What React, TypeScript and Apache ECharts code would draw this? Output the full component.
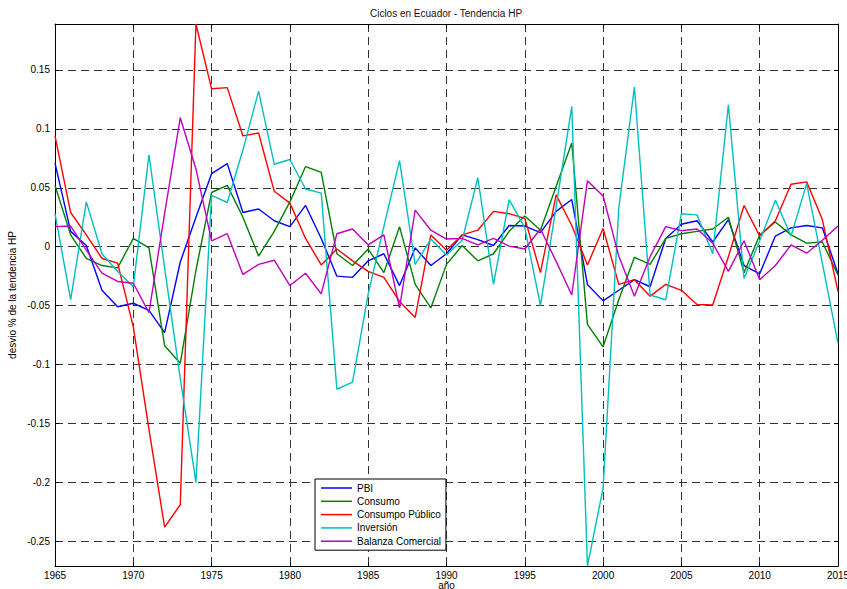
import React, { useEffect, useRef } from "react";
import * as echarts from "echarts";

const years: number[] = Array.from({ length: 51 }, (_, i) => 1965 + i);

const pbi: number[] = [
  0.071, 0.013, 0.001, -0.037, -0.051, -0.048, -0.054, -0.073, -0.013, 0.025,
  0.062, 0.0705, 0.029, 0.032, 0.022, 0.017, 0.035, 0.007, -0.025, -0.026,
  -0.012, -0.006, -0.033, -0.001, -0.016, -0.006, 0.01, 0.006, 0.001, 0.018,
  0.0175, 0.012, 0.03, 0.04, -0.032, -0.046, -0.037, -0.028, -0.034, 0.007,
  0.019, 0.022, 0.004, 0.023, -0.016, -0.023, 0.009, 0.016, 0.018, 0.016,
  -0.023,
];

const consumo: number[] = [
  0.052, 0.01, -0.01, -0.016, -0.018, 0.007, -0.001, -0.084, -0.099, -0.02,
  0.046, 0.052, 0.025, -0.008, 0.013, 0.038, 0.068, 0.063, -0.006, -0.016,
  -0.002, -0.022, 0.017, -0.032, -0.052, -0.015, 0.001, -0.012, -0.006, 0.013,
  0.026, 0.014, 0.051, 0.088, -0.066, -0.085, -0.045, -0.009, -0.015, 0.007,
  0.011, 0.013, 0.015, 0.025, -0.022, 0.01, 0.021, 0.01, 0.003, 0.004,
  -0.024,
];

const consumoPublico: number[] = [
  0.094, 0.029, 0.01, -0.01, -0.014, -0.068, -0.155, -0.238, -0.219, 0.189,
  0.134, 0.135, 0.094, 0.0965, 0.047, 0.037, 0.007, -0.0155, -0.002, -0.012,
  -0.021, -0.026, -0.0465, -0.06, 0.01, -0.003, 0.01, 0.014, 0.03, 0.028,
  0.024, -0.022, 0.044, 0.018, -0.0155, 0.0155, -0.032, -0.028, -0.042, -0.032,
  -0.037, -0.049, -0.0495, -0.0085, 0.035, 0.009, 0.022, 0.053, 0.055, 0.023,
  -0.038,
];

const inversion: number[] = [
  0.028, -0.045, 0.038, -0.006, -0.021, -0.034, 0.078, -0.018, -0.112, -0.2,
  0.0435, 0.0375, 0.082, 0.132, 0.07, 0.074, 0.049, 0.0455, -0.121, -0.115,
  -0.04, 0.017, 0.073, -0.015, 0.0065, -0.007, 0.0055, 0.0585, -0.032, 0.04,
  0.016, -0.05, 0.034, 0.119, -0.271, -0.205, 0.0325, 0.1355, -0.041, -0.045,
  0.028, 0.027, -0.006, 0.1205, -0.027, 0.005, 0.0395, 0.009, 0.0535, -0.014,
  -0.082,
];

const balanza: number[] = [
  0.017, 0.0175, -0.003, -0.0225, -0.0295, -0.031, -0.056, 0.028, 0.1095, 0.066,
  0.005, 0.011, -0.0235, -0.015, -0.0115, -0.033, -0.0225, -0.04, 0.011, 0.015,
  0.0015, 0.01, -0.052, 0.031, 0.014, 0.0065, 0.007, 0.0015, 0.007, 0.0005,
  -0.002, 0.015, -0.0125, -0.041, 0.056, 0.043, -0.008, -0.042, -0.0085, 0.017,
  0.0135, 0.015, 0.003, -0.021, 0.005, -0.028, -0.016, 0.0015, -0.0055, 0.0055,
  0.0175,
];

const seriesNames: string[] = [
  "PBI",
  "Consumo",
  "Consumpo Público",
  "Inversión",
  "Balanza Comercial",
];
const seriesColors: string[] = ["#0000FF", "#008000", "#FF0000", "#00BFBF", "#BF00BF"];
const seriesValues: number[][] = [pbi, consumo, consumoPublico, inversion, balanza];

const FONT = "'Liberation Sans', Arial, Helvetica, sans-serif";

export default function App() {
  const ref = useRef<HTMLDivElement>(null);

  useEffect(() => {
    if (!ref.current) return;
    const chart = echarts.init(ref.current, undefined, { renderer: "svg" });

    const all = seriesValues.flat();
    const yMin = Math.min(...all);
    const yMax = Math.max(...all);

    const gridLine = { show: true, lineStyle: { color: "#333", width: 1, type: [8, 5] as any } };
    const yFmt = (v: number) => String(parseFloat(v.toFixed(3)));

    const option: any = {
      animation: false,
      backgroundColor: "#fff",
      textStyle: { fontFamily: FONT },
      title: {
        text: "Ciclos en Ecuador - Tendencia HP",
        left: 446,
        textAlign: "center",
        top: 8,
        padding: 0,
        textStyle: { fontSize: 10, fontWeight: "normal", color: "#111", fontFamily: FONT },
      },
      grid: {
        left: 55,
        right: 9,
        top: 24,
        bottom: 23,
        containLabel: false,
        outerBoundsMode: "none",
      },
      legend: {
        orient: "vertical",
        left: 315,
        top: 479,
        data: seriesNames,
        icon: "rect",
        itemWidth: 31,
        itemHeight: 1.5,
        itemGap: 1.3,
        padding: [3, 5, 3, 6],
        backgroundColor: "#fff",
        borderColor: "#000",
        borderWidth: 1,
        borderRadius: 0,
        textStyle: { fontSize: 10, color: "#000", fontFamily: FONT, lineHeight: 12 },
      },
      xAxis: [
        {
          type: "value",
          min: 1965,
          max: 2015,
          interval: 5,
          name: "año",
          nameLocation: "middle",
          nameGap: 14,
          nameMoveOverlap: false,
          nameTextStyle: { fontSize: 10, lineHeight: 10, color: "#000", fontFamily: FONT },
          axisLine: { show: true, onZero: false, lineStyle: { color: "#000", width: 1 } },
          axisTick: { show: true, inside: true, length: 4, lineStyle: { color: "#000" } },
          axisLabel: {
            show: true,
            margin: 4,
            fontSize: 10,
            lineHeight: 10,
            color: "#000",
            fontFamily: FONT,
            formatter: (v: number) => String(v),
          },
          splitLine: gridLine,
        },
        {
          type: "value",
          position: "top",
          min: 1965,
          max: 2015,
          interval: 5,
          axisLine: { show: true, onZero: false, lineStyle: { color: "#000", width: 1 } },
          axisTick: { show: true, inside: true, length: 4, lineStyle: { color: "#000" } },
          axisLabel: { show: false },
          splitLine: { show: false },
        },
      ],
      yAxis: [
        {
          type: "value",
          min: yMin,
          max: yMax,
          splitNumber: 9,
          name: "desvio % de la tendencia HP",
          nameLocation: "middle",
          nameGap: 38,
          nameMoveOverlap: false,
          nameTextStyle: { fontSize: 10, color: "#000", fontFamily: FONT },
          axisLine: { show: true, onZero: false, lineStyle: { color: "#000", width: 1 } },
          axisTick: { show: true, inside: true, length: 4, lineStyle: { color: "#000" } },
          axisLabel: {
            show: true,
            margin: 5,
            fontSize: 10,
            color: "#000",
            fontFamily: FONT,
            showMinLabel: false,
            showMaxLabel: false,
            formatter: yFmt,
          },
          splitLine: gridLine,
        },
        {
          type: "value",
          position: "right",
          min: yMin,
          max: yMax,
          splitNumber: 9,
          axisLine: { show: true, onZero: false, lineStyle: { color: "#000", width: 1 } },
          axisTick: { show: true, inside: true, length: 4, lineStyle: { color: "#000" } },
          axisLabel: { show: false },
          splitLine: { show: false },
        },
      ],
      series: seriesNames.map((name, si) => ({
        name,
        type: "line",
        xAxisIndex: 0,
        yAxisIndex: 0,
        symbol: "none",
        color: seriesColors[si],
        lineStyle: { color: seriesColors[si], width: 1.4 },
        data: years.map((yr, i) => [yr, seriesValues[si][i]]),
        z: 3 + si,
      })),
    };

    chart.setOption(option);
    return () => chart.dispose();
  }, []);

  return (
    <div
      ref={ref}
      style={{ position: "fixed", left: 0, top: 0, width: 847, height: 589 }}
    />
  );
}
